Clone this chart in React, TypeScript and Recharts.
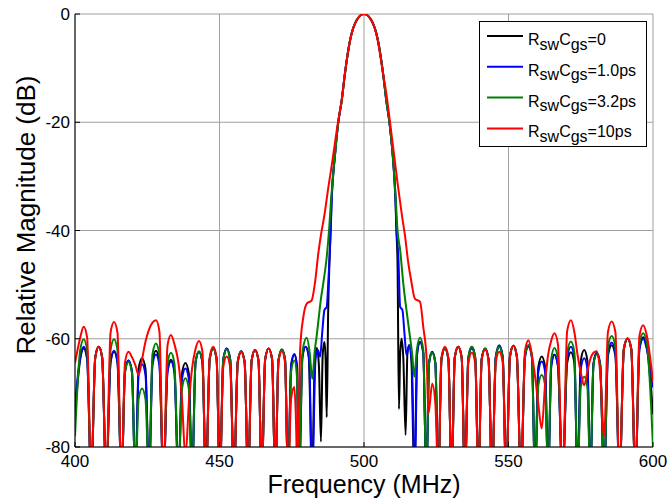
import { LineChart, Line, XAxis, YAxis, CartesianGrid, Legend } from "recharts";

// shared frequency grid (MHz) for the left side lobes: null, shoulder, peak, shoulder ...
const leftFreq = [
  400, 401.8, 403.0, 404.2, 405.6,
  407.0, 408.2, 409.4, 410.8,
  412.3, 413.5, 414.7, 416.1,
  417.3, 418.5, 419.7, 420.9,
  422.0, 423.2, 424.4, 425.6,
  426.8, 428.0, 429.2, 430.6,
  432.0, 433.2, 434.4, 435.8,
  437.0, 438.2, 439.4, 440.5,
  441.7, 442.9, 444.1, 445.3,
  446.6, 447.8, 449.0, 450.1,
  451.3, 452.5, 453.7, 455.0,
  456.3, 457.5, 458.7, 459.9,
  461.1, 462.3, 463.5, 464.6,
  465.8, 467.0, 468.2, 469.3,
  470.4, 471.6, 472.7, 473.7,
  474.8, 475.9,
];

const blackLeft = [
  -74, -63.8, -61.8, -63.8, -86,
  -63.5, -61.5, -63.5, -86,
  -64.4, -62.4, -64.4, -86,
  -66.0, -64.0, -66.0, -86,
  -65.6, -63.6, -65.6, -86,
  -64.2, -62.2, -64.2, -86,
  -65.9, -63.9, -65.9, -86,
  -66.5, -64.5, -66.5, -86,
  -64.4, -62.4, -64.4, -86,
  -63.8, -61.8, -63.8, -86,
  -63.8, -61.8, -63.8, -86,
  -64.3, -62.3, -64.3, -86,
  -64.1, -62.1, -64.1, -86,
  -63.8, -61.8, -63.8, -86,
  -64.0, -62.0, -64.0, -86,
  -64.9, -62.9,
];

const blueLeft = [
  -72, -63.5, -61.5, -63.5, -86,
  -63.5, -61.5, -63.5, -86,
  -64.2, -62.2, -64.2, -86,
  -66.0, -64.0, -66.0, -86,
  -66.7, -64.7, -66.7, -86,
  -64.9, -62.9, -64.9, -86,
  -66.2, -64.2, -66.2, -86,
  -67.5, -65.5, -67.5, -86,
  -64.4, -62.4, -64.4, -86,
  -63.8, -61.8, -63.8, -86,
  -63.8, -61.8, -63.8, -86,
  -64.3, -62.3, -64.3, -86,
  -64.1, -62.1, -64.1, -86,
  -63.8, -61.8, -63.8, -86,
  -64.0, -62.0, -64.0, -86,
  -64.8, -62.8,
];

const greenLeft = [
  -78, -62.1, -60.1, -62.1, -86,
  -63.5, -61.5, -63.5, -86,
  -62.1, -60.1, -62.1, -86,
  -66.3, -64.3, -66.3, -86,
  -71.2, -69.2, -71.2, -86,
  -62.9, -60.9, -62.9, -86,
  -64.6, -62.6, -64.6, -86,
  -69.3, -67.3, -69.3, -86,
  -64.3, -62.3, -64.3, -86,
  -63.8, -61.8, -63.8, -86,
  -64.0, -62.0, -64.0, -86,
  -64.3, -62.3, -64.3, -86,
  -64.1, -62.1, -64.1, -86,
  -63.8, -61.8, -63.8, -86,
  -64.0, -62.0, -64.0, -86,
  -66.0, -64.0,
];

const redLeft = [
  -64.5, -59.8, -57.8, -59.8, -86,
  -63.5, -61.5, -63.5, -86,
  -58.9, -56.9, -58.9, -86,
  -64.4, -62.4, -63.4, -64.9,
  -66.7, -63.8, -60.5, -58.3,
  -57.0, -56.6, -58.6, -86,
  -61.3, -59.3, -61.0, -64.5,
  -71.0, -82.0, -72.0, -65.5,
  -61.9, -60.4, -62.4, -86,
  -63.5, -61.5, -63.5, -86,
  -65.3, -63.3, -65.3, -86,
  -64.5, -62.5, -64.5, -86,
  -64.1, -62.1, -64.1, -86,
  -63.8, -61.8, -63.8, -86,
  -64.3, -62.3, -64.5, -86,
  -71.0, -68.9,
];

// main lobe and the near-in lobes, [MHz, dB]
const blackCenter: [number, number][] = [
  [476.8, -65], [477.6, -86], [478.7, -63.5], [479.8, -61.5], [480.9, -63.5], [482.0, -86],
  [483.0, -63.7], [483.7, -61.7], [484.4, -65], [485.1, -79], [485.7, -63], [486.3, -60.6],
  [486.7, -63.5], [487.1, -74.5], [487.6, -55], [488.1, -45], [488.4, -40], [488.8, -34.4],
  [490.0, -25.8], [491.1, -20], [492.3, -15.9], [493.4, -11], [495.2, -4.8], [497.5, -1.1],
  [500, 0], [502.5, -1.1], [504.8, -4.8], [506.6, -11], [507.7, -15.9], [508.8, -20],
  [509.9, -25.8], [510.9, -34.4], [511.2, -40], [511.6, -46], [512.1, -73], [512.5, -63],
  [513.0, -60], [513.6, -63.5], [514.4, -77.8], [515.0, -63], [515.6, -61.2], [516.4, -64],
  [517.4, -86], [518.4, -62.6], [519.4, -60.6], [520.5, -62.6], [521.6, -86], [522.5, -64.4],
];

const blueCenter: [number, number][] = [
  [476.8, -65], [477.4, -86], [478.6, -63.5], [479.8, -61.5], [481.0, -63.5], [482.1, -86],
  [483.2, -64], [484.0, -62.1], [484.8, -63.3], [485.6, -58.5], [486.3, -54.7], [487.1, -54.1],
  [487.7, -49], [488.2, -43.6], [488.5, -40], [488.8, -34.4], [490.0, -25.8], [491.1, -20],
  [492.3, -15.9], [493.4, -11], [495.2, -4.8], [497.5, -1.1], [500, 0], [502.5, -1.1],
  [504.8, -4.8], [506.6, -11], [507.7, -15.9], [508.8, -20], [509.9, -25.8], [510.9, -34.4],
  [511.3, -40], [511.9, -45], [512.5, -54.1], [513.3, -54.7], [514.0, -59], [514.7, -63],
  [515.6, -61.2], [516.5, -64], [517.6, -86], [518.4, -62.6], [519.4, -60.6], [520.5, -62.6],
  [521.6, -86], [522.5, -64.6],
];

const greenCenter: [number, number][] = [
  [476.8, -67], [477.4, -86], [478.8, -62], [480.2, -59.8], [481.2, -62.5], [482.1, -67.4],
  [483.0, -62], [483.6, -59.6], [484.2, -56.8], [485.0, -53], [485.9, -49.8], [487.1, -44.9],
  [487.9, -40], [488.6, -34.4], [490.0, -25.8], [491.1, -20], [492.3, -15.9], [493.4, -11],
  [495.2, -4.8], [497.5, -1.1], [500, 0], [502.5, -1.1], [504.8, -4.8], [506.6, -11],
  [507.7, -15.9], [508.8, -20], [509.9, -25.8], [511.0, -34.4], [511.6, -40], [512.5, -43.6],
  [513.6, -49.8], [514.7, -54.7], [515.9, -59.6], [516.7, -63], [517.4, -67], [518.3, -62],
  [519.4, -59.8], [520.5, -62], [521.6, -86], [522.5, -64.6],
];

const redCenter: [number, number][] = [
  [476.4, -74], [477.0, -86], [477.9, -62.1], [479.0, -56], [480.2, -53.5], [481.9, -52.9],
  [483.0, -49.8], [484.2, -44.2], [485.2, -40.5], [486.2, -37.5], [487.7, -31.9], [489.1, -27],
  [491.0, -20], [492.3, -15.9], [493.4, -11], [495.2, -4.8], [497.5, -1.1], [500, 0],
  [502.5, -1.1], [504.6, -4.5], [506.6, -11], [507.8, -15], [509.0, -20], [510.4, -26],
  [511.8, -32], [513.2, -37.5], [514.2, -41], [515.2, -45.5], [516.5, -49.8], [517.6, -52.6],
  [519.4, -53.2], [520.5, -57.8], [521.7, -64], [522.3, -73.8],
];

// shared frequency grid for the right side lobes
const rightFreq = [
  523.6, 524.7, 525.7,
  526.8, 528.0, 529.2, 530.3,
  531.4, 532.6, 533.8, 534.9,
  536.1, 537.3, 538.5, 539.6,
  540.7, 541.9, 543.1, 544.3,
  545.6, 546.8, 548.0, 549.2,
  550.5, 551.7, 552.9, 554.3,
  555.7, 556.9, 558.1, 559.2,
  560.3, 561.5, 562.7, 563.7,
  564.8, 565.9, 567.1, 568.7,
  570.3, 571.6, 572.8, 573.9,
  575.0, 576.2, 577.3, 578.3,
  579.4, 580.5, 581.7, 583.1,
  584.4, 585.7, 587.0, 588.4,
  589.9, 591.2, 592.5, 593.9,
  595.3, 596.6, 597.9, 600,
];

const blackRight = [
  -62.4, -64.4, -86,
  -63.8, -61.8, -63.8, -86,
  -63.5, -61.5, -63.5, -86,
  -63.5, -61.5, -63.5, -86,
  -63.8, -61.8, -63.8, -86,
  -63.5, -61.5, -63.5, -86,
  -63.3, -61.3, -63.3, -86,
  -63.2, -61.2, -63.2, -86,
  -65.3, -63.3, -65.3, -86,
  -65.0, -63.0, -65.0, -86,
  -64.5, -62.5, -64.5, -86,
  -64.1, -62.1, -64.1, -86,
  -64.6, -62.6, -64.6, -86,
  -63.2, -61.2, -63.2, -86,
  -62.0, -60.0, -62.0, -86,
  -61.7, -59.7, -61.7, -74,
];

const blueRight = [
  -62.6, -64.6, -86,
  -63.8, -61.8, -63.8, -86,
  -63.5, -61.5, -63.5, -86,
  -63.8, -61.8, -63.8, -86,
  -63.8, -61.8, -63.8, -86,
  -63.2, -61.2, -63.2, -86,
  -63.3, -61.3, -63.3, -86,
  -63.5, -61.5, -63.5, -86,
  -66.2, -64.2, -66.2, -86,
  -64.9, -62.9, -64.9, -86,
  -63.5, -61.5, -63.5, -86,
  -65.6, -63.6, -65.6, -86,
  -64.7, -62.7, -64.7, -86,
  -62.7, -60.7, -62.7, -86,
  -62.0, -60.0, -62.0, -86,
  -62.0, -60.0, -62.0, -69,
];

const greenRight = [
  -62.6, -64.6, -86,
  -63.8, -61.8, -63.8, -86,
  -63.5, -61.5, -63.5, -86,
  -63.5, -61.5, -63.5, -86,
  -63.8, -61.8, -63.8, -86,
  -63.5, -61.5, -63.5, -86,
  -63.3, -61.3, -63.3, -86,
  -63.2, -61.2, -63.2, -86,
  -68.7, -66.7, -68.7, -86,
  -63.7, -61.7, -63.7, -86,
  -62.5, -60.5, -62.5, -86,
  -69.0, -67.0, -69.0, -86,
  -64.9, -62.9, -64.9, -86,
  -61.5, -59.5, -61.5, -86,
  -61.9, -59.9, -61.9, -86,
  -61.0, -59.0, -61.0, -80,
];

const redRight = [
  -68.3, -72, -86,
  -63.5, -61.5, -63.5, -86,
  -63.5, -61.5, -63.5, -86,
  -64.6, -62.6, -64.6, -86,
  -64.0, -62.0, -64.0, -86,
  -64.4, -62.4, -64.4, -86,
  -63.3, -61.3, -63.3, -86,
  -62.3, -60.3, -63.0, -67.0,
  -72.0, -76.6, -68.0, -63.0,
  -60.3, -59.0, -61.0, -86,
  -58.6, -56.6, -58.8, -63.0,
  -66.2, -68.6, -66.0, -63.8,
  -62.6, -62.3, -66.0, -78.0,
  -58.8, -56.8, -58.8, -86,
  -61.9, -59.9, -61.9, -86,
  -59.5, -57.5, -59.5, -68,
];

const xTicks = [400, 450, 500, 550, 600];
const yTicks = [-80, -60, -40, -20, 0];
const legendValues = ["0", "1.0ps", "3.2ps", "10ps"];
const colors = ["#000000", "#0000ff", "#008000", "#ff0000"];

const FONT = "'Liberation Sans', Arial, Helvetica, sans-serif";

function build(left: number[], center: [number, number][], right: number[]) {
  return [
    ...leftFreq.map((f, i) => ({ f, v: left[i] })),
    ...center.map(([f, v]) => ({ f, v })),
    ...rightFreq.map((f, i) => ({ f, v: right[i] })),
  ];
}

const series = [
  build(blackLeft, blackCenter, blackRight),
  build(blueLeft, blueCenter, blueRight),
  build(greenLeft, greenCenter, greenRight),
  build(redLeft, redCenter, redRight),
];

function LegendBox() {
  return (
    <svg width={168} height={126} style={{ display: "block", fontFamily: FONT }}>
      <rect x={0.5} y={0.5} width={167} height={125} fill="#fff" stroke="#000" strokeWidth={1} />
      {legendValues.map((val, i) => {
        const y = 15 + i * 30.8;
        return (
          <g key={val}>
            <line x1={8} x2={44} y1={y} y2={y} stroke={colors[i]} strokeWidth={2} />
            <text x={49} y={y + 9} fontSize={16} fill="#000">
              <tspan>R</tspan>
              <tspan dy={4.5}>sw</tspan>
              <tspan dy={-4.5}>C</tspan>
              <tspan dy={4.5}>gs</tspan>
              <tspan dy={-4.5}>={val}</tspan>
            </text>
          </g>
        );
      })}
    </svg>
  );
}

export default function App() {
  const tickStyle = { fontSize: 17, fill: "#000", fontFamily: FONT };
  return (
    <div style={{ position: "absolute", left: 0, top: 0, width: 668, height: 500, background: "#fff" }}>
      <LineChart width={668} height={500} margin={{ top: 14, right: 15, left: 0, bottom: 0 }}>
        <CartesianGrid stroke="#a0a0a0" strokeWidth={1} horizontalValues={yTicks} verticalValues={xTicks} />
        <XAxis
          type="number"
          dataKey="f"
          domain={[400, 600]}
          ticks={xTicks}
          allowDataOverflow
          height={53}
          stroke="#000"
          tickSize={-5}
          tickMargin={13}
          tick={tickStyle}
        />
        <XAxis
          xAxisId="top"
          orientation="top"
          type="number"
          dataKey="f"
          domain={[400, 600]}
          ticks={xTicks}
          allowDataOverflow
          height={0}
          stroke="#000"
          tickSize={-5}
          tick={false}
        />
        <YAxis
          type="number"
          domain={[-80, 0]}
          ticks={yTicks}
          allowDataOverflow
          width={75}
          stroke="#000"
          tickSize={-5}
          tickMargin={10}
          tick={tickStyle}
        />
        <YAxis
          yAxisId="right"
          orientation="right"
          type="number"
          domain={[-80, 0]}
          ticks={yTicks}
          allowDataOverflow
          width={0}
          stroke="#000"
          tickSize={-5}
          tick={false}
        />
        <Legend
          layout="vertical"
          align="center"
          verticalAlign="middle"
          wrapperStyle={{ top: 21, left: 479, width: 168, height: 126 }}
          content={() => <LegendBox />}
        />
        {series.map((pts, i) => (
          <Line
            key={legendValues[i]}
            data={pts}
            dataKey="v"
            type="monotone"
            stroke={colors[i]}
            strokeWidth={2}
            dot={false}
            activeDot={false}
            isAnimationActive={false}
            legendType="line"
          />
        ))}
      </LineChart>
      <svg
        width={668}
        height={500}
        style={{ position: "absolute", left: 0, top: 0, pointerEvents: "none", fontFamily: FONT }}
      >
        <text x={364} y={493} fontSize={25} textAnchor="middle" fill="#000">
          Frequency (MHz)
        </text>
        <text x={35} y={215} fontSize={26} textAnchor="middle" fill="#000" transform="rotate(-90 35 215)">
          Relative Magnitude (dB)
        </text>
      </svg>
    </div>
  );
}
